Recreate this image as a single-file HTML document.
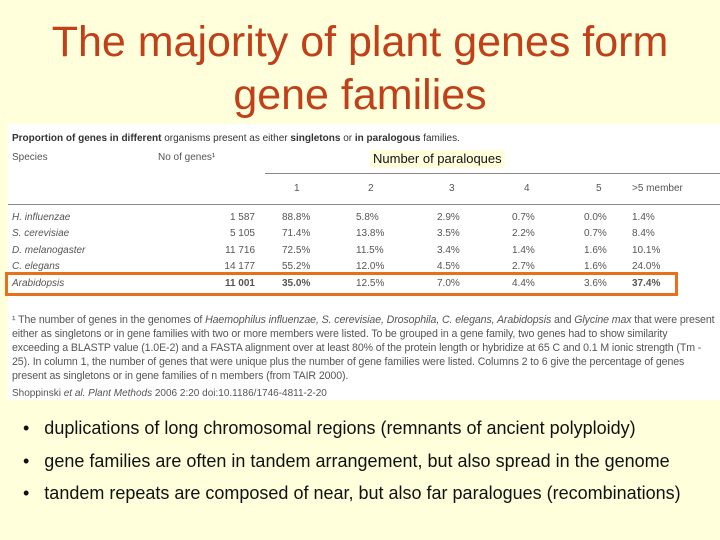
<!DOCTYPE html>
<html><head><meta charset="utf-8"><style>
body{margin:0;width:720px;height:540px;background:#ffffdc;font-family:"Liberation Sans",sans-serif;position:relative;overflow:hidden}
.a{position:absolute;white-space:nowrap}
#title{left:0;width:720px;top:16px;text-align:center;color:#c0401a;font-size:43px;line-height:53px}
#tbl{left:8px;top:124px;width:712px;height:276px;background:#fff}
.t{font-size:10px;color:#555;line-height:12px}
.r{text-align:right}
.bul{font-size:18px;color:#111;left:23px}
</style></head><body>
<div class="a" id="title">The majority of plant genes form<br>gene families</div>
<div class="a" id="tbl"></div>
<div class="a t" style="left:12px;top:133px;color:#333"><b>Proportion of genes in different</b> organisms present as either <b>singletons</b> or <b>in paralogous</b> families.</div>
<div class="a t" style="left:12px;top:152px">Species</div>
<div class="a t" style="left:158px;top:152px">No of genes¹</div>
<div class="a" style="left:370px;top:150px;background:#ffffdc;padding:0 3px;font-size:13px;color:#111;line-height:18px">Number of paraloques</div>
<div class="a" style="left:265px;top:173px;width:455px;height:1px;background:#888"></div>
<div class="a" style="left:8px;top:204px;width:712px;height:1px;background:#888"></div>
<div id="rows"></div>
<div class="a" style="left:5px;top:272px;width:667px;height:18px;border:3px solid #e8701a"></div>
<div class="a t" style="left:12px;top:313px;line-height:14px;font-size:10.6px;letter-spacing:-0.1px">¹ The number of genes in the genomes of <i>Haemophilus influenzae, S. cerevisiae, Drosophila, C. elegans, Arabidopsis</i> and <i>Glycine max</i> that were present<br>either as singletons or in gene families with two or more members were listed. To be grouped in a gene family, two genes had to show similarity<br>exceeding a BLASTP value (1.0E-2) and a FASTA alignment over at least 80% of the protein length or hybridize at 65 C and 0.1 M ionic strength (Tm -<br>25). In column 1, the number of genes that were unique plus the number of gene families were listed. Columns 2 to 6 give the percentage of genes<br>present as singletons or in gene families of n members (from TAIR 2000).</div>
<div class="a t" style="left:12px;top:388px">Shoppinski <i>et al. Plant Methods</i> 2006 2:20 doi:10.1186/1746-4811-2-20</div>
<div class="a bul" style="top:418px">•&nbsp;&nbsp; duplications of long chromosomal regions (remnants of ancient polyploidy)</div>
<div class="a bul" style="top:451px">•&nbsp;&nbsp; gene families are often in tandem arrangement, but also spread in the genome</div>
<div class="a bul" style="top:483px">•&nbsp;&nbsp; tandem repeats are composed of near, but also far paralogues (recombinations)</div>
<script>
const colHeaders=["1","2","3","4","5",">5 member"];
const species=["H. influenzae","S. cerevisiae","D. melanogaster","C. elegans","Arabidopsis"];
const genes=["1 587","5 105","11 716","14 177","11 001"];
const values=[["88.8%","5.8%","2.9%","0.7%","0.0%","1.4%"],["71.4%","13.8%","3.5%","2.2%","0.7%","8.4%"],["72.5%","11.5%","3.4%","1.4%","1.6%","10.1%"],["55.2%","12.0%","4.5%","2.7%","1.6%","24.0%"],["35.0%","12.5%","7.0%","4.4%","3.6%","37.4%"]];
const colX=[282,356,437,512,584,632];
const rowY=[212,228,245,261,278];
const c=document.getElementById('rows');
function add(txt,x,y,cls,bold,it){const d=document.createElement('div');d.className='a t '+(cls||'');d.style.left=x+'px';d.style.top=y+'px';d.textContent=txt;if(bold)d.style.fontWeight='bold';if(it)d.style.fontStyle='italic';c.appendChild(d);return d;}
colHeaders.forEach((h,i)=>{const d=add(h,colX[i]+(i<5?12:0),183);

});
species.forEach((s,r)=>{const b=r===4;
const d=add(s,12,rowY[r],'',false,true);


const g=add(genes[r],200,rowY[r],'r',b);g.style.width='55px';


values[r].forEach((v,i)=>{const e=add(v,colX[i],rowY[r],'',b&&(i===0||i===5));

});});
</script>
</body></html>
